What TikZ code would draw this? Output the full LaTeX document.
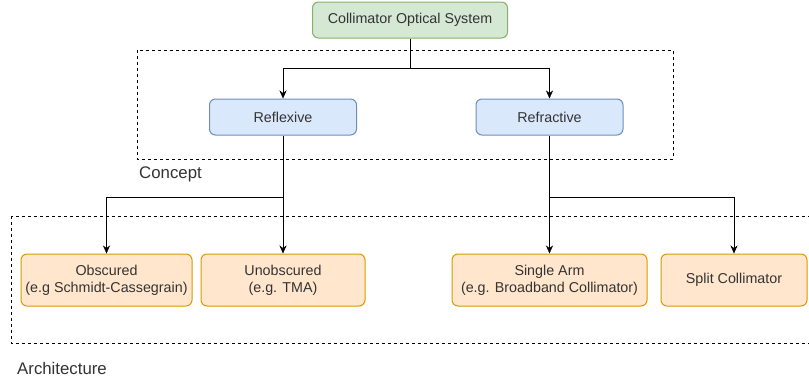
\documentclass[tikz,border=0pt]{standalone}
\usepackage{fontspec}
\setmainfont{Liberation Sans}
\usetikzlibrary{arrows.meta}

\definecolor{greenfill}{HTML}{D5E8D4}
\definecolor{greenline}{HTML}{82B366}
\definecolor{bluefill}{HTML}{DAE8FC}
\definecolor{blueline}{HTML}{6C8EBF}
\definecolor{orangefill}{HTML}{FFE6CC}
\definecolor{orangeline}{HTML}{D79B00}
\definecolor{textgray}{HTML}{333333}

\begin{document}
\begin{tikzpicture}[x=1pt,y=-1pt,>={Stealth[length=8pt,width=7pt]}]
\tikzstyle{every node}=[font=\fontsize{14.3}{17.2}\selectfont,text=textgray]
\tikzstyle{box}=[draw,rounded corners=6pt,align=center,inner sep=0pt,line width=1pt]
\tikzstyle{groupname}=[font=\fontsize{16.8}{20}\selectfont,anchor=base west,inner sep=0pt]

\clip (0,0) rectangle (809,381);
\fill[white] (0,0) rectangle (809,381);

% group frames
\draw[dashed] (137,50) rectangle (673,159);
\draw[dashed] (11,216) rectangle (815,343);
\node[groupname] (concept) at (139,178.7) {Concept};
\node[groupname] (archi) at (17,374) {Architecture};

% boxes
\node[box,fill=greenfill,draw=greenline,minimum width=195,minimum height=36] (system) at (410,20) {Collimator Optical System};
\node[box,fill=bluefill,draw=blueline,minimum width=147,minimum height=36] (reflexive) at (283,117) {Reflexive};
\node[box,fill=bluefill,draw=blueline,minimum width=147,minimum height=36] (refractive) at (549.5,117) {Refractive};

\node[box,fill=orangefill,draw=orangeline,minimum width=171,minimum height=52] (obscured) at (106.5,280) {Obscured\\(e.g Schmidt-Cassegrain)};
\node[box,fill=orangefill,draw=orangeline,minimum width=164,minimum height=52] (unobscured) at (283,280) {Unobscured\\(e.g. TMA)};
\node[box,fill=orangefill,draw=orangeline,minimum width=195,minimum height=52] (singlearm) at (549.5,280) {Single Arm\\(e.g. Broadband Collimator)};
\node[box,fill=orangefill,draw=orangeline,minimum width=146,minimum height=52] (splitcol) at (734,280) {Split Collimator};

% branch points
\coordinate (fork0) at (410,68);
\coordinate (fork1) at (283,197);
\coordinate (fork2) at (549.5,197);

% connectors
\draw (system.south) -- (fork0);
\foreach \target in {reflexive,refractive}
	\draw[->] (fork0) -| (\target.north);

\draw[->] (reflexive.south) -- (unobscured.north);
\draw[->] (fork1) -| (obscured.north);

\draw[->] (refractive.south) -- (singlearm.north);
\draw[->] (fork2) -| (splitcol.north);
\end{tikzpicture}
\end{document}
